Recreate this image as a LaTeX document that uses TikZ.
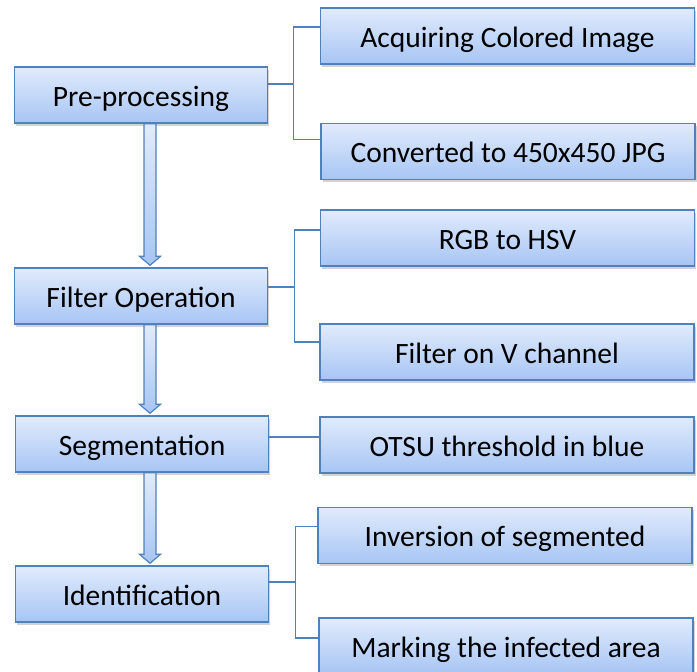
\documentclass[tikz,border=0pt]{standalone}
\usepackage{fontspec}
\setmainfont{Carlito}
\usetikzlibrary{calc,shadows}

\definecolor{boxline}{HTML}{4F81BD}
\definecolor{boxtop}{HTML}{E1EBFC}
\definecolor{boxbot}{HTML}{A7C5F4}

\tikzset{
	stage/.style={draw=boxline, line width=1.4pt, top color=boxtop, bottom color=boxbot,
		minimum width=253pt, minimum height=56pt, inner sep=0pt,
		text height=24pt, text depth=2pt,
		font=\fontsize{29.5}{32}\selectfont,
		drop shadow={shadow xshift=1.5pt, shadow yshift=-2.5pt, opacity=0.35}},
	task/.style={stage, minimum width=374pt},
	link/.style={draw=boxline, line width=1.4pt},
	flow/.style={draw=boxline, line width=1.2pt, top color=boxtop, bottom color=boxbot,
		to path={($(\tikztostart)+(-6,0)$) -- ($(\tikztotarget)+(-6,-11)$) -- ++(-4.5,0)
			-- ($(\tikztotarget)+(0,-2)$) -- ++(10.5,-9) -- ++(-4.5,0)
			-- ($(\tikztostart)+(6,0)$) -- cycle}}
}

\begin{document}
\begin{tikzpicture}[x=1pt, y=-1pt]

	\useasboundingbox (0,0) rectangle (697,672);

	% left column
	\node[stage] (pre)   at (141,95)  {Pre-processing};
	\node[stage] (filt)  at (141,296) {Filter Operation};
	\node[stage] (seg)   at (142,444) {Segmentation};
	\node[stage] (ident) at (142,594) {Identification};

	% right column
	\node[task] (acq)  at (507.5,36)  {Acquiring Colored Image};
	\node[task] (conv) at (508,151.5) {Converted to 450x450 JPG};
	\node[task] (rgb)  at (507.5,238) {RGB to HSV};
	\node[task] (fov)  at (507,352)   {Filter on V channel};
	\node[task] (otsu) at (507,445)   {OTSU threshold in blue};
	\node[task] (inv)  at (505,535.5) {Inversion of segmented};
	\node[task] (mark) at (506,646)   {Marking the infected area};

	% arrows between stages
	\path[flow] ([xshift=9pt]pre.south) to ([xshift=9pt]filt.north);
	\path[flow] ([xshift=9pt]filt.south) to ([xshift=8pt]seg.north);
	\path[flow] ([xshift=8pt]seg.south) to ([xshift=8pt]ident.north);

	% brackets
	\draw[link] ([yshift=11pt]pre.east) -- ++(25,0) coordinate (j1);
	\draw[link] ([yshift=9pt]acq.west) -| (j1) |- ([yshift=12pt]conv.west);

	\draw[link] ([yshift=9pt]filt.east) -- ++(26,0) coordinate (j2);
	\draw[link] ([yshift=8pt]rgb.west) -| (j2) |- ([yshift=10pt]fov.west);

	\draw[link] ([yshift=7pt]seg.east) -- ([yshift=8pt]otsu.west);

	\draw[link] ([yshift=12pt]ident.east) -- ++(26,0) coordinate (j3);
	\draw[link] ([yshift=9pt]inv.west) -| (j3) |- ([yshift=8pt]mark.west);

\end{tikzpicture}
\end{document}
